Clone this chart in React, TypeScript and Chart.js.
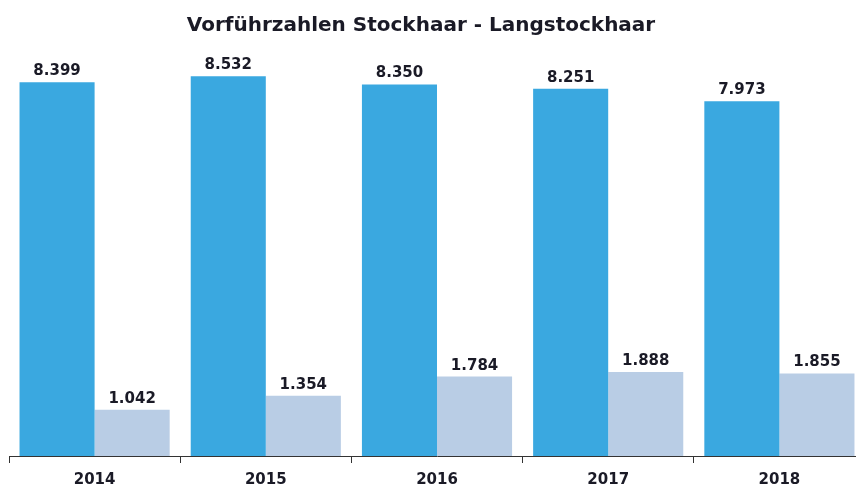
import React, { useEffect, useRef } from "react";
import { Chart, registerables } from "chart.js";

Chart.register(...registerables);

const TITLE = "Vorführzahlen Stockhaar - Langstockhaar";
const categories = ["2014", "2015", "2016", "2017", "2018"];
const stockhaar = [8399, 8532, 8350, 8251, 7973];
const langstockhaar = [1042, 1354, 1784, 1888, 1855];

const BLUE = "#3aa8e0";
const LIGHT = "#b9cde5";
const TEXT = "#1a1a26";
const FONT = "'DejaVu Sans', Verdana, sans-serif";

function fmt(v: number): string {
  const s = String(Math.round(v));
  return s.replace(/\B(?=(\d{3})+(?!\d))/g, ".");
}

const labelPlugin = {
  id: "barLabels",
  afterDatasetsDraw(chart: any) {
    const ctx = chart.ctx;
    ctx.save();
    ctx.font = `bold 15px ${FONT}`;
    ctx.fillStyle = TEXT;
    ctx.textAlign = "center";
    ctx.textBaseline = "alphabetic";
    chart.data.datasets.forEach((ds: any, i: number) => {
      const meta = chart.getDatasetMeta(i);
      meta.data.forEach((bar: any, j: number) => {
        ctx.fillText(fmt(ds.data[j]), bar.x, bar.y - 7);
      });
    });
    ctx.restore();
  },
};

const titlePlugin = {
  id: "customTitle",
  afterDraw(chart: any) {
    const ctx = chart.ctx;
    ctx.save();
    ctx.font = `bold 20px ${FONT}`;
    ctx.fillStyle = TEXT;
    ctx.textAlign = "center";
    ctx.textBaseline = "alphabetic";
    ctx.fillText(TITLE, 421, 31);
    ctx.restore();
  },
};

export default function App() {
  const ref = useRef<HTMLCanvasElement>(null);
  useEffect(() => {
    if (!ref.current) return;
    const chart = new Chart(ref.current, {
      type: "bar",
      data: {
        labels: categories,
        datasets: [
          {
            label: "Stockhaar",
            data: stockhaar,
            backgroundColor: BLUE,
            barPercentage: 1,
            categoryPercentage: 0.877,
          },
          {
            label: "Langstockhaar",
            data: langstockhaar,
            backgroundColor: LIGHT,
            barPercentage: 1,
            categoryPercentage: 0.877,
          },
        ],
      },
      options: {
        responsive: false,
        animation: false,
        layout: { padding: { left: 9, right: 0, top: 11, bottom: 0 } },
        plugins: {
          legend: { display: false },
          title: { display: false },
          tooltip: { enabled: false },
        },
        scales: {
          x: {
            grid: {
              drawOnChartArea: false,
              drawTicks: true,
              tickLength: 7,
              color: "#333333",
              offset: true,
            },
            border: { display: true, color: "#333333", width: 1 },
            ticks: {
              color: TEXT,
              font: { family: FONT, size: 15, weight: "bold" },
              padding: 8,
              maxRotation: 0,
            },
          },
          y: {
            display: false,
            min: 0,
            max: 10000,
          },
        },
      },
      plugins: [labelPlugin, titlePlugin],
    });
    return () => chart.destroy();
  }, []);
  return (
    <div
      style={{
        position: "fixed",
        left: 0,
        top: 0,
        width: 856,
        height: 488,
        overflow: "hidden",
        background: "#ffffff",
      }}
    >
      <canvas ref={ref} width={865} height={497} style={{ width: 865, height: 497, display: "block" }} />
    </div>
  );
}
